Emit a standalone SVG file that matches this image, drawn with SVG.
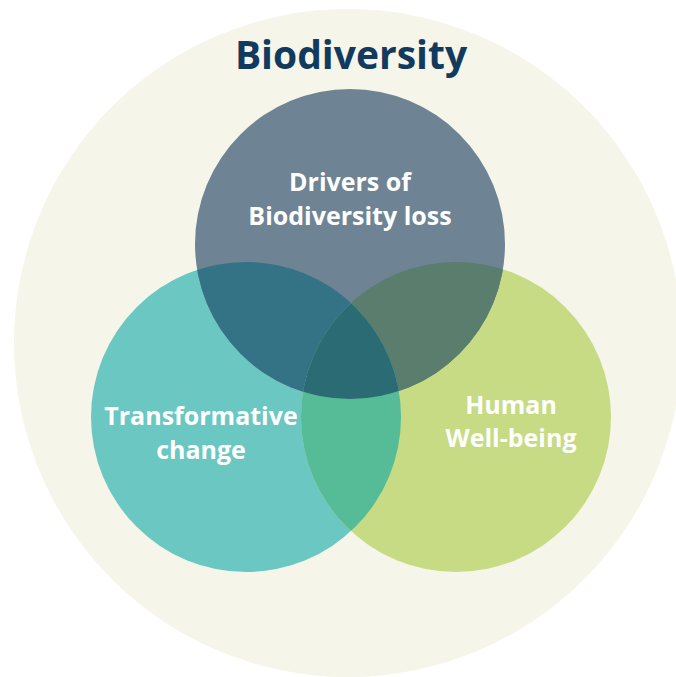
<svg xmlns="http://www.w3.org/2000/svg" width="676" height="677" viewBox="0 0 676 677">
<style>
.lbl{font-family:"Open Sans","Liberation Sans",sans-serif;font-weight:700;fill:#ffffff;text-anchor:middle;font-size:25px}
.title{font-family:"Open Sans","Liberation Sans",sans-serif;font-weight:700;fill:#123a5e;text-anchor:middle;font-size:39px}
</style>
<defs>
<clipPath id="cTop"><circle cx="350" cy="244" r="155"/></clipPath>
<clipPath id="cLeft"><circle cx="246" cy="417" r="155"/></clipPath>
<clipPath id="cRight"><circle cx="456" cy="417" r="155"/></clipPath>
</defs>
<rect width="676" height="677" fill="#ffffff"/>
<g id="biodiversity">
<circle cx="348" cy="343" r="334" fill="#f5f5e9"/>
<text class="title" x="351" y="69">Biodiversity</text>
</g>
<g id="transformative-change">
<circle cx="246" cy="417" r="155" fill="#6bc7c2"/>
</g>
<g id="human-well-being">
<circle cx="456" cy="417" r="155" fill="#c6db84"/>
</g>
<g id="drivers">
<circle cx="350" cy="244" r="155" fill="#6e8494"/>
</g>
<g id="overlaps">
<g clip-path="url(#cTop)"><circle cx="246" cy="417" r="155" fill="#347385"/><circle cx="456" cy="417" r="155" fill="#5a7d6d"/></g>
<g clip-path="url(#cLeft)"><circle cx="456" cy="417" r="155" fill="#56bb97"/></g>
<g clip-path="url(#cLeft)"><g clip-path="url(#cRight)"><circle cx="350" cy="244" r="155" fill="#2b6b73"/></g></g>
</g>
<g id="labels">
<text class="lbl" x="350" y="191">Drivers of</text>
<text class="lbl" x="350" y="225">Biodiversity loss</text>
<text class="lbl" x="201" y="425">Transformative</text>
<text class="lbl" x="201" y="459">change</text>
<text class="lbl" x="511" y="414">Human</text>
<text class="lbl" x="511" y="447">Well-being</text>
</g>
<g id="connectors"/>
</svg>
